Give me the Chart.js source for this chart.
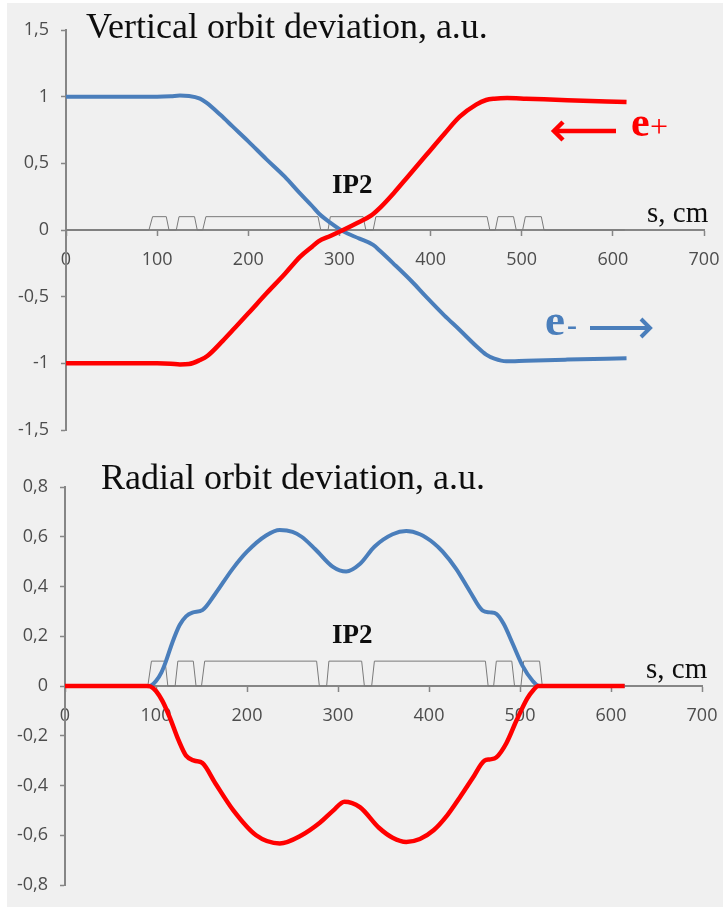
<!DOCTYPE html>
<html>
<head>
<meta charset="utf-8">
<script src="https://cdn.jsdelivr.net/npm/chart.js@4.4.1/dist/chart.umd.min.js"></script>
<style>
  html, body { margin: 0; padding: 0; background: #ffffff; }
  #page { position: relative; width: 723px; height: 907px; overflow: hidden; }
  #panel { position: absolute; left: 7px; top: 3px; right: 0; bottom: 0; background: #f0f0f0; }
  .wrap { position: absolute; left: 0; width: 723px; }
  #wrapTop { top: 0; height: 450px; }
  #wrapBottom { top: 450px; height: 457px; }
  canvas { display: block; }
</style>
</head>
<body>
<div id="page">
  <div id="panel"></div>
  <div class="wrap" id="wrapTop"><canvas id="vert" width="723" height="450"></canvas></div>
  <div class="wrap" id="wrapBottom"><canvas id="rad" width="723" height="457"></canvas></div>
</div>
<script>
// ---- longitudinal coordinate ticks, s in cm ----
const sTickValues = [0, 100, 200, 300, 400, 500, 600, 700];
const sTickLabels = ['0', '100', '200', '300', '400', '500', '600', '700'];

// ---- vertical panel ticks ----
const vertTickValues = [-1.5, -1, -0.5, 0, 0.5, 1, 1.5];
const vertTickLabels = ['-1,5', '-1', '-0,5', '0', '0,5', '1', '1,5'];

// ---- radial panel ticks ----
const radTickValues = [-0.8, -0.6, -0.4, -0.2, 0, 0.2, 0.4, 0.6, 0.8];
const radTickLabels = ['-0,8', '-0,6', '-0,4', '-0,2', '0', '0,2', '0,4', '0,6', '0,8'];

// ---- vertical orbit deviation, electron beam (e-) ----
const vertS_electron = [0, 50, 100, 115, 125, 135, 147, 154, 170, 183, 200, 220, 240, 256, 270, 278, 290, 304, 322, 337, 345, 359, 380, 395, 415, 432, 450, 461, 470, 483, 505, 550, 615];
const vertElectron   = [1, 1, 1, 1.003, 1.008, 1.005, 0.985, 0.955, 0.86, 0.775, 0.665, 0.53, 0.4, 0.28, 0.18, 0.12, 0.055, -0.01, -0.065, -0.112, -0.16, -0.25, -0.39, -0.5, -0.64, -0.75, -0.87, -0.935, -0.965, -0.985, -0.98, -0.972, -0.962];

// ---- vertical orbit deviation, positron beam (e+) ----
const vertS_positron = [0, 50, 100, 115, 125, 135, 147, 155, 170, 183, 200, 220, 240, 257, 270, 277, 290, 304, 320, 335, 345, 360, 375, 395, 415, 432, 450, 461, 470, 484, 505, 550, 615];
const vertPositron   = [-1, -1, -1, -1.003, -1.008, -1.005, -0.975, -0.945, -0.845, -0.75, -0.625, -0.475, -0.33, -0.2, -0.125, -0.085, -0.045, 0, 0.055, 0.11, 0.17, 0.28, 0.4, 0.56, 0.72, 0.85, 0.94, 0.975, 0.985, 0.99, 0.985, 0.973, 0.96];

// ---- radial orbit deviation, electron beam (e-) ----
const radS_electron = [0, 50, 90, 95, 100, 106, 111, 118, 126, 133, 140, 151, 165, 184, 200, 221, 236, 250, 260, 275, 294, 309, 324, 340, 360, 375, 390, 405, 415, 430, 445, 459, 467, 474, 482, 492, 503, 514, 521, 560, 615];
const radElectron   = [0, 0, 0, 0.003, 0.02, 0.055, 0.1, 0.175, 0.245, 0.28, 0.295, 0.305, 0.37, 0.47, 0.54, 0.605, 0.627, 0.62, 0.6, 0.55, 0.48, 0.46, 0.49, 0.56, 0.61, 0.623, 0.61, 0.575, 0.54, 0.47, 0.38, 0.303, 0.296, 0.29, 0.25, 0.17, 0.08, 0.02, 0, 0, 0];

// ---- radial orbit deviation, positron beam (e+) ----
const radS_positron = [0, 50, 90, 94, 100, 107, 115, 125, 133, 142, 151, 165, 185, 210, 236, 260, 280, 295, 307, 324, 345, 360, 375, 390, 405, 420, 434, 448, 461, 467, 474, 485, 496, 508, 515, 520, 560, 615];
const radPositron   = [0, 0, 0, -0.002, -0.02, -0.06, -0.125, -0.22, -0.28, -0.3, -0.31, -0.39, -0.5, -0.6, -0.633, -0.6, -0.55, -0.5, -0.465, -0.487, -0.57, -0.61, -0.627, -0.615, -0.58, -0.52, -0.447, -0.37, -0.3, -0.295, -0.287, -0.23, -0.14, -0.05, -0.015, 0, 0, 0];

// ---- magnet layout around IP2 (schematic profile) ----
const magnetS = [0, 91, 95, 110, 113, 121, 124, 141, 144, 150, 153.5, 276.5, 279.5, 287.5, 290, 326, 329, 337, 340, 462, 465, 471, 474, 491, 494, 501, 504, 521.5, 524.5, 613];
const magnetH = [0, 0, 0.1, 0.1, 0, 0, 0.1, 0.1, 0, 0, 0.1, 0.1, 0, 0, 0.1, 0.1, 0, 0, 0.1, 0.1, 0, 0, 0.1, 0.1, 0, 0, 0.1, 0.1, 0, 0];

const BLUE = '#4a7ebb';
const RED = '#ff0000';
const AXIS = '#868686';
const TICK_TEXT = '#4d4d4d';
const SERIF = '"Liberation Serif", "Times New Roman", serif';

const pts = (xs, ys) => xs.map((x, i) => ({ x: x, y: ys[i] }));

// text labels and direction arrows drawn on top of the plot
const overlayPlugin = {
  id: 'overlay',
  afterDatasetsDraw(chart, args, opts) {
    const ctx = chart.ctx;
    ctx.save();
    ctx.textAlign = 'left';
    ctx.textBaseline = 'alphabetic';
    (opts.texts || []).forEach(t => {
      ctx.font = t.font;
      ctx.fillStyle = t.color;
      ctx.fillText(t.text, t.x, t.y);
    });
    (opts.arrows || []).forEach(a => {
      const dir = a.x2 > a.x1 ? 1 : -1;
      ctx.strokeStyle = a.color;
      ctx.lineWidth = a.width;
      ctx.lineCap = 'butt';
      ctx.lineJoin = 'miter';
      ctx.beginPath();
      ctx.moveTo(a.x1, a.y);
      ctx.lineTo(a.x2 - dir * 2, a.y);
      ctx.stroke();
      ctx.beginPath();
      ctx.moveTo(a.x2 - dir * a.head, a.y - a.head);
      ctx.lineTo(a.x2, a.y);
      ctx.lineTo(a.x2 - dir * a.head, a.y + a.head);
      ctx.stroke();
    });
    ctx.restore();
  }
};

function makeScales(yMin, yMax, yValues, yLabels, yWidth) {
  return {
    x: {
      type: 'linear',
      min: 0,
      max: 700,
      position: { y: 0 },
      afterBuildTicks: s => { s.ticks = sTickValues.map(v => ({ value: v })); },
      // the plot frame is set by the layout padding alone
      afterFit: s => { s.paddingLeft = 0; s.paddingRight = 0; s.paddingTop = 0; s.paddingBottom = 0; },
      ticks: {
        callback: (v, i) => sTickLabels[i],
        font: { family: '"Open Sans", sans-serif', size: 18 },
        color: TICK_TEXT,
        padding: 14,
        maxRotation: 0,
        autoSkip: false
      },
      grid: { drawOnChartArea: false, drawTicks: true, tickLength: 5, color: AXIS, tickWidth: 1.5 },
      border: { display: true, color: AXIS, width: 2 }
    },
    y: {
      type: 'linear',
      min: yMin,
      max: yMax,
      position: 'left',
      afterBuildTicks: s => { s.ticks = yValues.map(v => ({ value: v })); },
      afterFit: s => { s.width = yWidth; s.paddingTop = 0; s.paddingBottom = 0; },
      ticks: {
        callback: (v, i) => yLabels[i],
        font: { family: '"Open Sans", sans-serif', size: 18 },
        color: TICK_TEXT,
        padding: 12,
        autoSkip: false
      },
      grid: { drawOnChartArea: false, drawTicks: true, tickLength: 5, color: AXIS, tickWidth: 1.5 },
      border: { display: true, color: AXIS, width: 2 }
    }
  };
}

function makeDatasets(sE, vE, sP, vP) {
  return [
    {
      label: 'magnets',
      data: pts(magnetS, magnetH),
      borderColor: '#7a7a7a',
      borderWidth: 1,
      pointRadius: 0,
      tension: 0,
      order: 3
    },
    {
      label: 'e-',
      data: pts(sE, vE),
      borderColor: BLUE,
      borderWidth: 4,
      pointRadius: 0,
      cubicInterpolationMode: 'monotone',
      order: 2
    },
    {
      label: 'e+',
      data: pts(sP, vP),
      borderColor: RED,
      borderWidth: 4.5,
      pointRadius: 0,
      cubicInterpolationMode: 'monotone',
      order: 1
    }
  ];
}

const common = {
  responsive: false,
  animation: false,
  devicePixelRatio: 1,
  events: []
};

new Chart(document.getElementById('vert'), {
  type: 'line',
  data: { datasets: makeDatasets(vertS_electron, vertElectron, vertS_positron, vertPositron) },
  options: Object.assign({}, common, {
    layout: { padding: { left: 0, right: 19, top: 30, bottom: 20 } },
    scales: makeScales(-1.5, 1.5, vertTickValues, vertTickLabels, 66),
    plugins: {
      legend: { display: false },
      tooltip: { enabled: false },
      overlay: {
        texts: [
          { text: 'Vertical orbit deviation, a.u.', x: 86, y: 38, font: '36px ' + SERIF, color: '#0d0d0d' },
          { text: 'IP2', x: 332, y: 193, font: 'bold 27px ' + SERIF, color: '#0d0d0d' },
          { text: 's, cm', x: 647, y: 222, font: '29px ' + SERIF, color: '#0d0d0d' },
          { text: 'e', x: 631, y: 136, font: 'bold 42px ' + SERIF, color: RED },
          { text: '+', x: 650, y: 137, font: '32px ' + SERIF, color: RED },
          { text: 'e', x: 545, y: 335, font: 'bold 45px ' + SERIF, color: BLUE },
          { text: '-', x: 567, y: 335, font: 'bold 30px ' + SERIF, color: BLUE }
        ],
        arrows: [
          { x1: 616, x2: 554, y: 131, color: RED, width: 4.5, head: 9 },
          { x1: 590, x2: 650, y: 328, color: BLUE, width: 4, head: 9 }
        ]
      }
    }
  }),
  plugins: [overlayPlugin]
});

new Chart(document.getElementById('rad'), {
  type: 'line',
  data: { datasets: makeDatasets(radS_electron, radElectron, radS_positron, radPositron) },
  options: Object.assign({}, common, {
    layout: { padding: { left: 0, right: 21, top: 37, bottom: 22 } },
    scales: makeScales(-0.8, 0.8, radTickValues, radTickLabels, 65),
    plugins: {
      legend: { display: false },
      tooltip: { enabled: false },
      overlay: {
        texts: [
          { text: 'Radial orbit deviation, a.u.', x: 101, y: 39, font: '36px ' + SERIF, color: '#0d0d0d' },
          { text: 'IP2', x: 332, y: 193, font: 'bold 27px ' + SERIF, color: '#0d0d0d' },
          { text: 's, cm', x: 646, y: 228, font: '29px ' + SERIF, color: '#0d0d0d' }
        ],
        arrows: []
      }
    }
  }),
  plugins: [overlayPlugin]
});
</script>
</body>
</html>
